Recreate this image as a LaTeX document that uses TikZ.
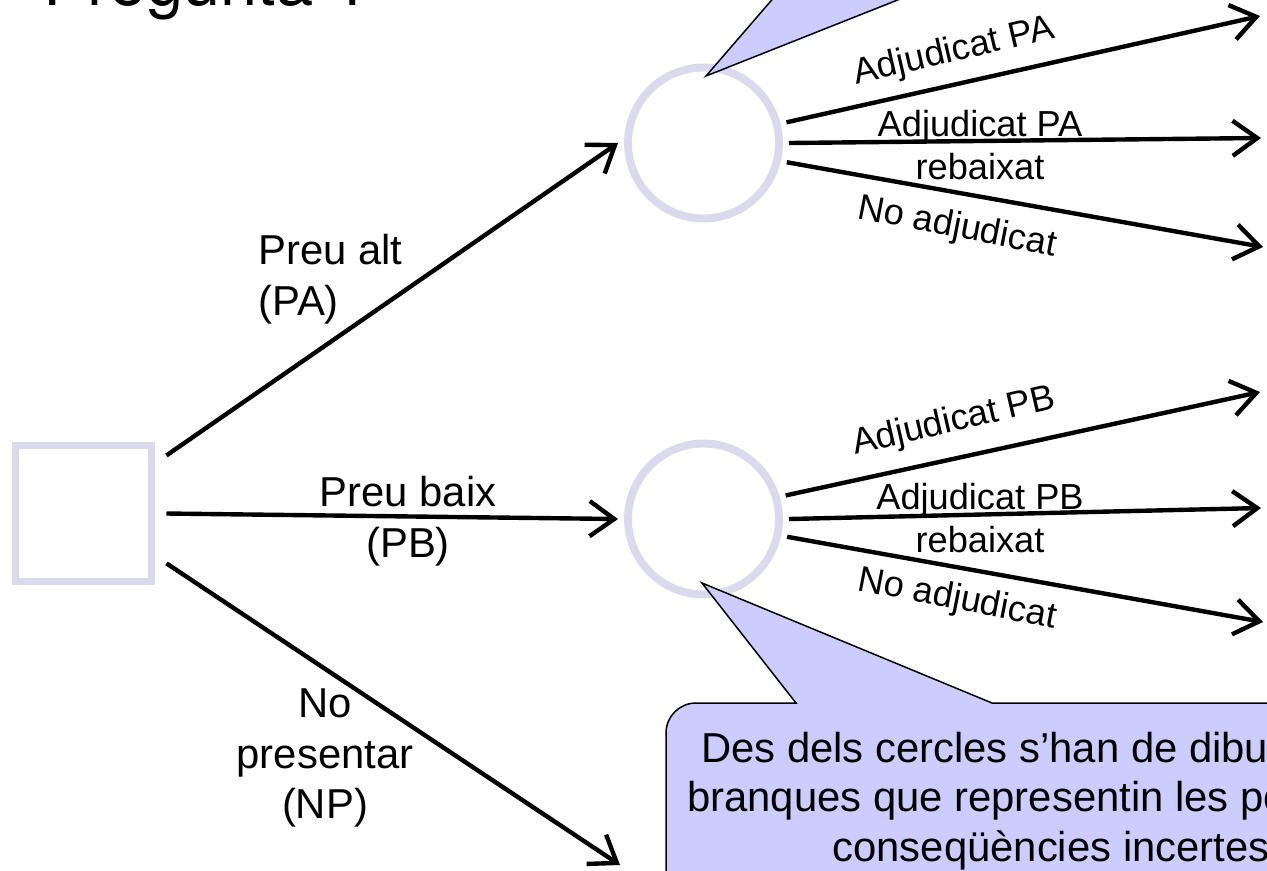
\documentclass[tikz,border=0pt]{standalone}
\usepackage{fontspec}
\setmainfont{Liberation Sans}
\newfontfamily\titlefont{TeX Gyre Heros}
\usetikzlibrary{arrows.meta}
\definecolor{nodeline}{RGB}{218,218,236}
\definecolor{notefill}{RGB}{204,204,255}

\begin{document}
\begin{tikzpicture}[x=0.02cm,y=-0.02cm,
        >={Straight Barb[length=14pt,width=20pt]},
        decision/.style={rectangle,draw=nodeline,line width=4pt,minimum size=2.72cm,inner sep=0pt,outer sep=0.3cm},
        chance/.style={circle,draw=nodeline,line width=4.5pt,minimum size=3.02cm,inner sep=0pt,outer sep=0.2cm},
        branch/.style={->,line width=2.5pt},
        biglabel/.style={inner sep=0pt,align=center,font=\fontsize{23.8}{28.9}\selectfont},
        smalllabel/.style={inner sep=0pt,align=center,font=\fontsize{20.6}{24.4}\selectfont},
        notebox/.style={fill=notefill,draw=black,line width=0.85pt}]
    \useasboundingbox (0,0) rectangle (1267,870);
    \clip (0,0) rectangle (1267,870);

    \node[anchor=base west,inner sep=0pt,font=\titlefont\fontsize{38}{44}\selectfont] (title) at (43,5) {Pregunta 1};

    \node[decision] (root) at (83.5,513.5) {};
    \node[chance] (pa) at (703.5,143) {};
    \node[chance] (pb) at (703.5,519) {};

    \coordinate (np) at (620,865);
    \coordinate (pa-adj) at (1260,16);
    \coordinate (pa-reb) at (1261,138);
    \coordinate (pa-no) at (1263,247);
    \coordinate (pb-adj) at (1260,392);
    \coordinate (pb-reb) at (1261,508);
    \coordinate (pb-no) at (1263,622);

    \draw[branch] (root.35) to (pa.west);
    \draw[branch] (root.east) to (pb.west);
    \draw[branch] (root.-31) to (np);
    \draw[branch] (pa.14) to (pa-adj);
    \draw[branch] (pa.east) to (pa-reb);
    \draw[branch] (pa.-13) to (pa-no);
    \draw[branch] (pb.16) to (pb-adj);
    \draw[branch] (pb.east) to (pb-reb);
    \draw[branch] (pb.-12) to (pb-no);

    \node[biglabel,anchor=west,align=left] (altlab) at (258,279) {Preu alt\\(PA)};
    \node[biglabel] (baixlab) at (408,521) {Preu baix\\(PB)};
    \node[biglabel] (nplab) at (325,758) {No\\presentar\\(NP)};
    \node[smalllabel,rotate=13] (paadj) at (954,52) {Adjudicat PA};
    \node[smalllabel] (pareb) at (980,145) {Adjudicat PA\\rebaixat};
    \node[smalllabel,rotate=-11] (pano) at (957,228) {No adjudicat};
    \node[smalllabel,rotate=13] (pbadj) at (954,422) {Adjudicat PB};
    \node[smalllabel] (pbreb) at (980,518) {Adjudicat PB\\rebaixat};
    \node[smalllabel,rotate=-11] (pbno) at (957,600) {No adjudicat};

    % bafarades
    \filldraw[notebox] (789,-20) -- (706,76) -- (948,-20);
    \filldraw[notebox] (666,900) -- (666,733) arc[start angle=180,end angle=270,radius=30]
        -- (796,703) -- (702,583) -- (992,703) -- (1436,703) -- (1436,900) -- cycle;
    \node[biglabel,font=\fontsize{23.8}{28.3}\selectfont] (notetext) at (1051,801)
        {Des dels cercles s’han de dibuixar les\\branques que representin les possibles\\conseqüències incertes};
\end{tikzpicture}
\end{document}
